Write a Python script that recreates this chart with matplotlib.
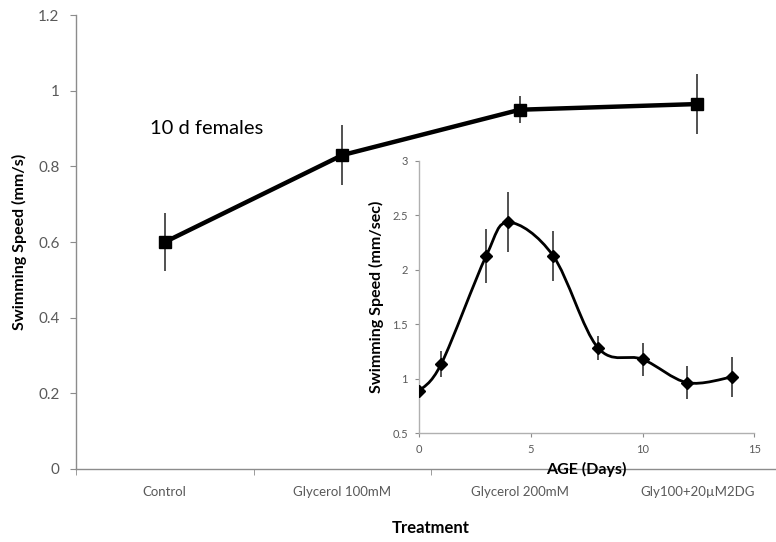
import numpy as np
import matplotlib
matplotlib.use("Agg")
import matplotlib.pyplot as plt
from matplotlib.path import Path
from matplotlib.patches import PathPatch

plt.rcParams['font.family'] = ['Lato', 'DejaVu Sans']

# main chart: 10 d females by treatment
treatments = ["Control", "Glycerol 100mM", "Glycerol 200mM", "Gly100+20\u00b5M2DG"]
speed = [0.600, 0.830, 0.950, 0.965]
speed_err = [0.076, 0.080, 0.035, 0.080]

# inset: swimming speed vs age
age = [0, 1, 3, 4, 6, 8, 10, 12, 14]
age_speed = [0.886, 1.138, 2.126, 2.436, 2.129, 1.285, 1.178, 0.963, 1.015]
age_err = [0.21, 0.12, 0.25, 0.275, 0.23, 0.11, 0.15, 0.15, 0.185]

grey = "#8c8c8c"
tick_col = "#595959"

fig = plt.figure(figsize=(7.76, 5.42), dpi=100)
fig.patch.set_facecolor("white")

# ---- main axes ----
ax = fig.add_axes([0.098, 0.1347, 0.915, 0.8373])
x = np.arange(len(treatments))
ax.errorbar(x, speed, yerr=speed_err, fmt="none", ecolor="#222222",
            elinewidth=1.1, capsize=0, zorder=2)
ax.plot(x, speed, color="black", lw=3.2, marker="s", ms=9,
        solid_joinstyle="round", zorder=3)
ax.set_xlim(-0.5, 3.5)
ax.set_ylim(0, 1.2)
ax.set_yticks(np.arange(0, 1.21, 0.2))
ax.set_yticklabels(["0", "0.2", "0.4", "0.6", "0.8", "1", "1.2"])
ax.set_xticks(x)
ax.set_xticklabels(treatments, fontsize=9.5, color=tick_col)
ax.set_xticks(np.arange(-0.5, 3.6, 1), minor=True)
ax.tick_params(axis="x", which="major", length=0, pad=12)
ax.tick_params(axis="x", which="minor", length=4, color=grey, direction="out")
ax.tick_params(axis="y", length=4, color=grey, labelsize=11, labelcolor=tick_col, pad=8)
for s in ["top", "right"]:
    ax.spines[s].set_visible(False)
for s in ["left", "bottom"]:
    ax.spines[s].set_color(grey)
    ax.spines[s].set_linewidth(1.0)
ax.set_ylabel("Swimming Speed (mm/s)", fontsize=11.5, fontweight="bold", labelpad=8)
ax.set_xlabel("Treatment", fontsize=12, fontweight="bold", labelpad=16)
fig.text(150 / 776, 1 - 128 / 542, "10 d females", fontsize=14.5, va="center", ha="left")

# ---- inset ----
ins = fig.add_axes([0.540, 0.201, 0.432, 0.502])
ins.set_xlim(0, 15)
ins.set_ylim(0.5, 3)
ins.errorbar(age, age_speed, yerr=age_err, fmt="none", ecolor="#222222",
             elinewidth=1.1, capsize=0, zorder=2)

# Excel-style smoothed line: cubic Bezier segments through the points
pts = np.column_stack([age, age_speed])
verts = [tuple(pts[0])]
codes = [Path.MOVETO]
n = len(pts)
for i in range(n - 1):
    p0 = pts[i - 1] if i > 0 else pts[i]
    p1 = pts[i]
    p2 = pts[i + 1]
    p3 = pts[i + 2] if i + 2 < n else pts[i + 1]
    c1 = p1 + (p2 - p0) / 6
    c2 = p2 - (p3 - p1) / 6
    verts += [tuple(c1), tuple(c2), tuple(p2)]
    codes += [Path.CURVE4] * 3
ins.add_patch(PathPatch(Path(verts, codes), fill=False, lw=2.0,
                        edgecolor="black", zorder=3))
ins.plot(age, age_speed, ls="none", marker="D", ms=6, color="black", zorder=4)

ins.set_xticks([0, 5, 10, 15])
ins.set_yticks([0.5, 1, 1.5, 2, 2.5, 3])
ins.set_yticklabels(["0.5", "1", "1.5", "2", "2.5", "3"])
ins.tick_params(length=3, color=grey, labelsize=8, labelcolor=tick_col, pad=5)
for s in ["top", "right"]:
    ins.spines[s].set_visible(False)
for s in ["left", "bottom"]:
    ins.spines[s].set_color("#b0b0b0")
    ins.spines[s].set_linewidth(1.0)
ins.patch.set_alpha(0)
ins.set_xlabel("AGE (Days)", fontsize=11.5, fontweight="bold", labelpad=5)
ins.set_ylabel("Swimming Speed (mm/sec)", fontsize=11.5, fontweight="bold", labelpad=6)

fig.savefig("out.png", dpi=100)
